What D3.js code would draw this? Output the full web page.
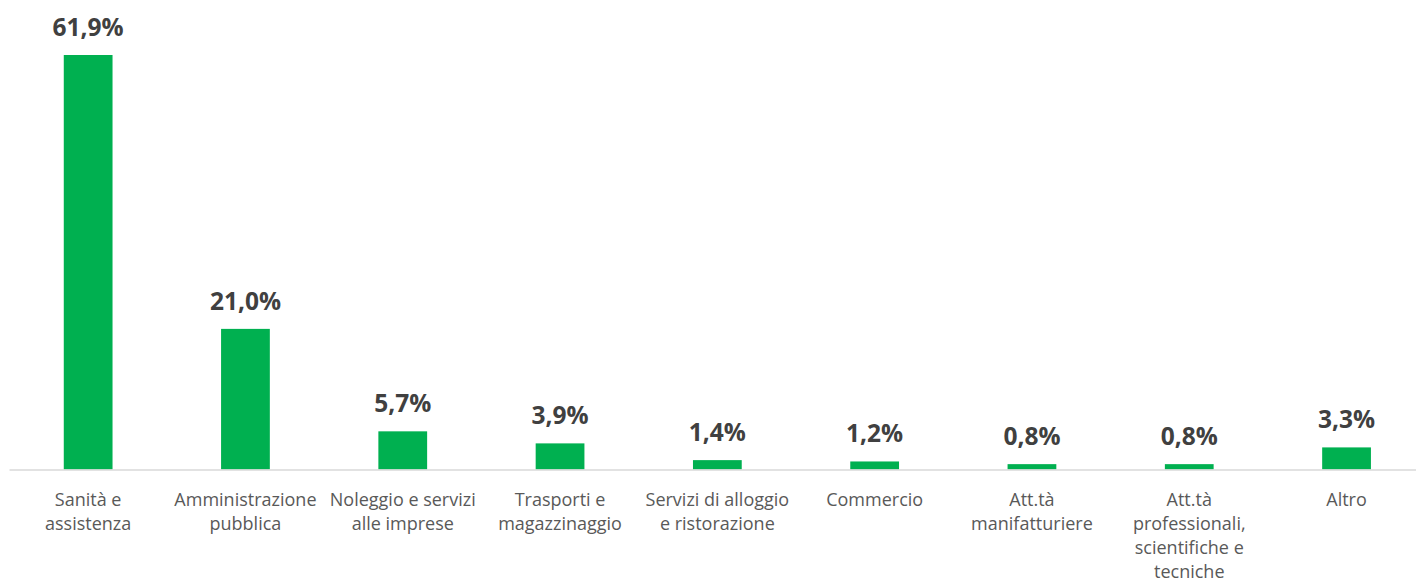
<!DOCTYPE html>
<html>
<head>
<meta charset="utf-8">
<script src="https://cdn.jsdelivr.net/npm/d3@7"></script>
<style>
  body { margin: 0; background: #fff; }
  svg { display: block; }
</style>
</head>
<body>
<svg id="chart"></svg>
<script>
// categories, each line of the label split by \n
const categories = [
  "Sanità e\nassistenza",
  "Amministrazione\npubblica",
  "Noleggio e servizi\nalle imprese",
  "Trasporti e\nmagazzinaggio",
  "Servizi di alloggio\ne ristorazione",
  "Commercio",
  "Att.tà\nmanifatturiere",
  "Att.tà\nprofessionali,\nscientifiche e\ntecniche",
  "Altro"
];
const values = [61.9, 21.0, 5.7, 3.9, 1.4, 1.2, 0.8, 0.8, 3.3];

const width = 1416, height = 584;
const margin = {top: 55, left: 9.5, bottom: 114.5};
const step = 157.3;

const svg = d3.select('#chart')
    .attr('width', width)
    .attr('height', height);

const xscale = d3.scaleBand()
    .domain(categories)
    .range([margin.left, margin.left + step * categories.length])
    .paddingInner(0.69)
    .paddingOuter(0.345);

const baseline = height - margin.bottom;
const yscale = d3.scaleLinear()
    .domain([0, 61.9])
    .range([baseline, margin.top]);

const data = categories.map((c, i) => ({cat: c, value: values[i]}));

svg.selectAll('rect.bar')
    .data(data)
    .enter()
    .append('rect')
    .attr('class', 'bar')
    .attr('x', d => xscale(d.cat))
    .attr('y', d => yscale(d.value))
    .attr('width', xscale.bandwidth())
    .attr('height', d => baseline - yscale(d.value))
    .attr('fill', '#00b050');

// axis line
svg.append('line')
    .attr('x1', margin.left)
    .attr('x2', width)
    .attr('y1', baseline + 0.5)
    .attr('y2', baseline + 0.5)
    .attr('stroke', '#d9d9d9')
    .attr('stroke-width', 1.5);

svg.selectAll('text.value')
    .data(data)
    .enter()
    .append('text')
    .attr('class', 'value')
    .attr('x', d => xscale(d.cat) + xscale.bandwidth() / 2)
    .attr('y', d => yscale(d.value) - 19)
    .attr('text-anchor', 'middle')
    .attr('font-family', 'Open Sans, sans-serif')
    .attr('font-weight', 'bold')
    .attr('font-size', 24.5)
    .attr('fill', '#404040')
    .text(d => d.value.toFixed(1).replace('.', ',') + '%');

const labels = svg.selectAll('text.cat')
    .data(data)
    .enter()
    .append('text')
    .attr('class', 'cat')
    .attr('x', d => xscale(d.cat) + xscale.bandwidth() / 2)
    .attr('y', baseline + 36)
    .attr('text-anchor', 'middle')
    .attr('font-family', 'Open Sans, sans-serif')
    .attr('font-size', 18)
    .attr('fill', '#595959');

labels.selectAll('tspan')
    .data(d => d.cat.split('\n'))
    .enter()
    .append('tspan')
    .attr('x', function() { return d3.select(this.parentNode).attr('x'); })
    .attr('dy', (d, i) => i === 0 ? 0 : 24)
    .text(d => d);
</script>
</body>
</html>
